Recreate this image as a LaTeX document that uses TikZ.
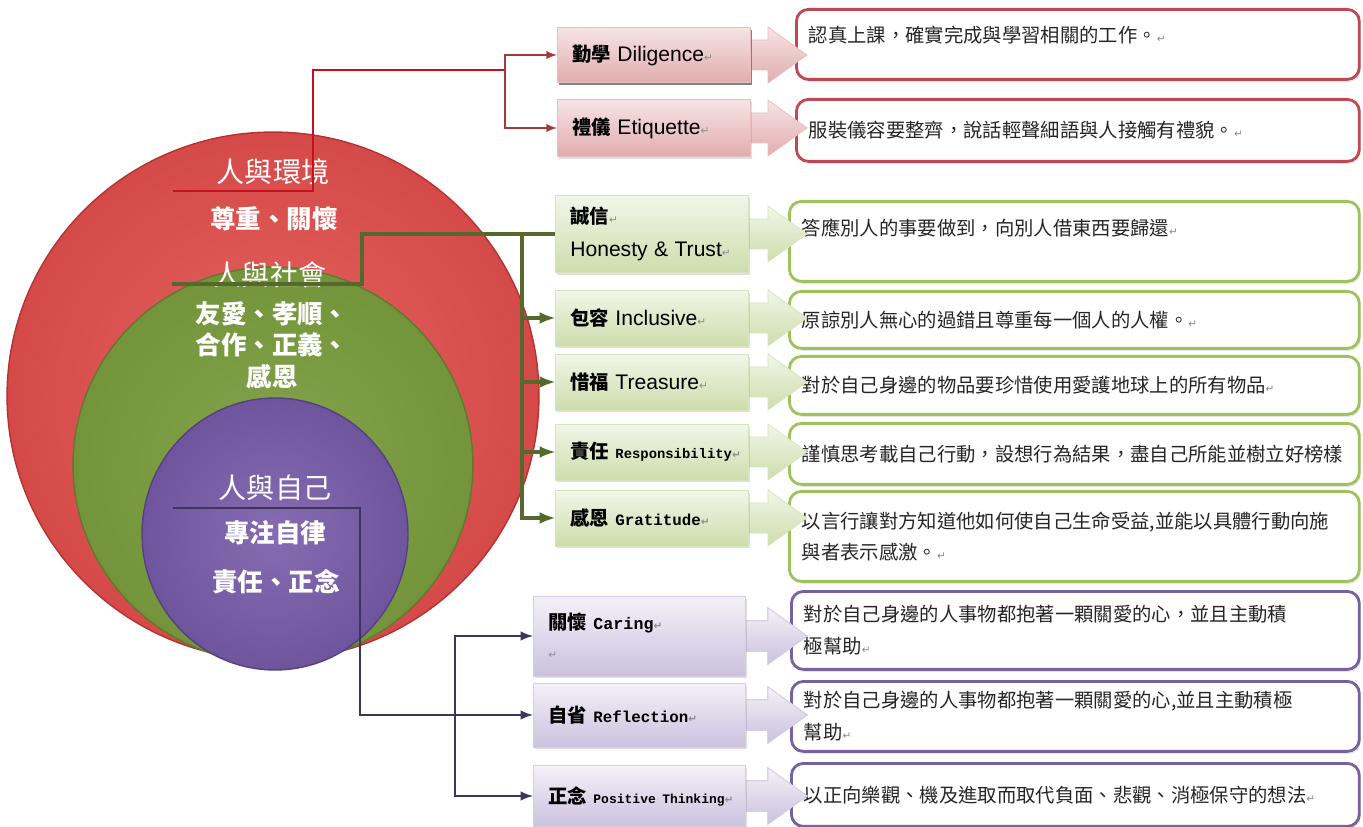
\documentclass[tikz,border=0pt]{standalone}
\usepackage{fontspec}
\setmainfont{Noto Sans CJK TC}
\newfontfamily\arialfont{Liberation Sans}
\newfontfamily\codefont{Liberation Mono}
\newfontfamily\markfont{DejaVu Sans}
\usetikzlibrary{positioning}
\usetikzlibrary{calc}
\usetikzlibrary{arrows}
\usetikzlibrary{shadows}
\pgfdeclarelayer{nodelayer}
\pgfdeclarelayer{edgelayer}
\pgfsetlayers{edgelayer,nodelayer,main}

\definecolor{envred}{RGB}{224,78,76}
\definecolor{envrededge}{RGB}{180,50,50}
\definecolor{socgreen}{RGB}{122,156,62}
\definecolor{socgreenedge}{RGB}{95,122,45}
\definecolor{selfpurple}{RGB}{120,92,170}
\definecolor{selfpurpleedge}{RGB}{85,65,130}
\definecolor{redwirecol}{RGB}{200,15,30}
\definecolor{redbranchcol}{RGB}{160,60,60}
\definecolor{greenwirecol}{RGB}{85,105,45}
\definecolor{purplewirecol}{RGB}{62,52,92}
\definecolor{redtagtop}{RGB}{246,228,228}
\definecolor{redtagbot}{RGB}{226,172,174}
\definecolor{greentagtop}{RGB}{242,246,232}
\definecolor{greentagbot}{RGB}{205,221,172}
\definecolor{purpletagtop}{RGB}{244,241,248}
\definecolor{purpletagbot}{RGB}{203,193,222}
\definecolor{redframe}{RGB}{192,72,82}
\definecolor{greenframe}{RGB}{158,194,92}
\definecolor{purpleframe}{RGB}{118,98,158}

\newcommand{\enterm}{{\markfont\fontsize{6}{6}\selectfont\color{black!45}↵}}
\newcommand{\tagzh}[1]{{\bfseries #1}}
\newcommand{\sanslabel}[1]{\mbox{\arialfont\fontsize{12}{14}\selectfont #1}}
\newcommand{\monolabel}[2][8.2]{\mbox{\codefont\bfseries\fontsize{#1}{11}\selectfont #2}}
\newcommand{\chev}[2]{\path[#2] (738,#1-15) -- (768,#1-15) -- (768,#1-28) -- (807,#1) -- (768,#1+28) -- (768,#1+15) -- (738,#1+15) -- cycle;}

\tikzset{ringred/.style={inner color=envred!88!white, outer color=envred!95!black, draw=envrededge, line width=0.8pt}}
\tikzset{ringgreen/.style={inner color=socgreen!92!white, outer color=socgreen!95!black, draw=socgreenedge, line width=0.8pt}}
\tikzset{ringpurple/.style={inner color=selfpurple!90!white, outer color=selfpurple!92!black, draw=selfpurpleedge, line width=0.8pt}}
\tikzset{circhead/.style={text=white, inner sep=0pt, font=\fontsize{16}{18}\selectfont}}
\tikzset{circtext/.style={text=white, inner sep=0pt, align=center, font=\fontsize{14.5}{18}\selectfont\bfseries}}
\tikzset{tagbox/.style={anchor=west, rectangle, inner xsep=0.3cm, align=left,
  font=\fontsize{11}{19}\selectfont,
  drop shadow={opacity=0.25, shadow xshift=0.03cm, shadow yshift=-0.05cm}}}
\tikzset{redtag/.style={tagbox, text width=3.26cm, minimum height=1.1cm, draw=redtagbot!80!white, top color=redtagtop, bottom color=redtagbot}}
\tikzset{greentag/.style={tagbox, text width=3.26cm, minimum height=1.12cm, draw=greentagbot!80!white, top color=greentagtop, bottom color=greentagbot}}
\tikzset{purpletag/.style={tagbox, text width=3.64cm, minimum height=1.24cm, draw=purpletagbot!80!white, top color=purpletagtop, bottom color=purpletagbot}}
\tikzset{descbox/.style={anchor=north west, rectangle, rounded corners=0.24cm, line width=1.6pt, fill=white,
  inner xsep=0.25cm, align=left, text=black!85, font=\fontsize{11}{18}\selectfont,
  drop shadow={opacity=0.2, shadow xshift=0.03cm, shadow yshift=-0.05cm}}}
\tikzset{reddesc/.style={descbox, draw=redframe, text width=10.76cm}}
\tikzset{greendesc/.style={descbox, draw=greenframe, text width=10.9cm}}
\tikzset{purpledesc/.style={descbox, draw=purpleframe, text width=10.86cm}}
\tikzset{redwire/.style={draw=redwirecol, line width=1.1pt}}
\tikzset{redbranch/.style={draw=redbranchcol, line width=1.1pt}}
\tikzset{greenwire/.style={draw=greenwirecol, line width=2pt}}
\tikzset{purplewire/.style={draw=purplewirecol, line width=1.4pt}}

\begin{document}
\begin{tikzpicture}[x=0.02cm, y=-0.02cm]
	\useasboundingbox (0,0) rectangle (1363,827);
	\begin{pgfonlayer}{nodelayer}
		\node [style=reddesc, minimum height=1.4cm, text depth=0.4cm] (20) at (795,8) {認真上課，確實完成與學習相關的工作。\enterm};
		\node [style=reddesc, minimum height=1.24cm] (21) at (795,98) {服裝儀容要整齊，說話輕聲細語與人接觸有禮貌。\enterm};
		\node [style=greendesc, minimum height=1.6cm, text depth=0.58cm] (22) at (788,200) {答應別人的事要做到，向別人借東西要歸還\enterm};
		\node [style=greendesc, minimum height=1.14cm] (23) at (788,290) {原諒別人無心的過錯且尊重每一個人的人權。\enterm};
		\node [style=greendesc, minimum height=1.16cm] (24) at (788,355) {對於自己身邊的物品要珍惜使用愛護地球上的所有物品\enterm};
		\node [style=greendesc, minimum height=1.22cm] (25) at (788,422) {謹慎思考載自己行動，設想行為結果，盡自己所能並樹立好榜樣};
		\node [style=greendesc, minimum height=1.8cm] (26) at (788,490) {以言行讓對方知道他如何使自己生命受益,並能以具體行動向施\\與者表示感激。\enterm};
		\node [style=purpledesc, minimum height=1.56cm] (27) at (790,590) {對於自己身邊的人事物都抱著一顆關愛的心，並且主動積\\極幫助\enterm};
		\node [style=purpledesc, minimum height=1.4cm] (28) at (790,680) {對於自己身邊的人事物都抱著一顆關愛的心,並且主動積極\\幫助\enterm};
		\node [style=purpledesc, minimum height=1.26cm] (29) at (790,762) {以正向樂觀、機及進取而取代負面、悲觀、消極保守的想法\enterm};
		% chevrons between tags and descriptions
		\chev{55}{top color=redtagtop, bottom color=redtagbot, draw=redtagbot!80!white}
		\chev{128}{top color=redtagtop, bottom color=redtagbot, draw=redtagbot!80!white}
		\foreach \y in {234,318,382,452,518}
			\chev{\y}{top color=greentagtop, bottom color=greentagbot, draw=greentagbot!80!white}
		\foreach \y in {636,715,796}
			\chev{\y}{top color=purpletagtop, bottom color=purpletagbot, draw=purpletagbot!80!white}
		\node [style=redtag] (10) at (557,55) {\tagzh{勤學}~\sanslabel{Diligence\enterm}};
		\node [style=redtag, minimum height=1.14cm] (11) at (557,128) {\tagzh{禮儀}~\sanslabel{Etiquette\enterm}};
		\node [style=greentag, minimum height=1.54cm] (12) at (555,234) {\tagzh{誠信}\enterm\\\sanslabel{Honesty \& Trust\enterm}};
		\node [style=greentag] (13) at (555,318) {\tagzh{包容}~\sanslabel{Inclusive\enterm}};
		\node [style=greentag] (14) at (555,382) {\tagzh{惜福}~\sanslabel{Treasure\enterm}};
		\node [style=greentag] (15) at (555,452) {\mbox{\tagzh{責任}~\monolabel[7.9]{Responsibility\enterm}}};
		\node [style=greentag] (16) at (555,518) {\tagzh{感恩}~\monolabel[9]{Gratitude\enterm}};
		\node [style=purpletag, minimum height=1.6cm, font=\fontsize{11}{16.5}\selectfont] (17) at (533,636) {\tagzh{關懷}~\monolabel[9.5]{Caring\enterm}\\\enterm};
		\node [style=purpletag, minimum height=1.28cm] (18) at (533,715) {\tagzh{自省}~\monolabel[9]{Reflection\enterm}};
		\node [style=purpletag, minimum height=1.22cm] (19) at (533,796) {\mbox{\tagzh{正念}~\monolabel[7.4]{Positive Thinking\enterm}}};
	\end{pgfonlayer}
	\begin{pgfonlayer}{edgelayer}
		\shadedraw [style=ringred] (273,396) ellipse [x radius=5.32cm, y radius=5.28cm];
		\shadedraw [style=ringgreen] (273,465) ellipse [x radius=4cm, y radius=3.96cm];
		\shadedraw [style=ringpurple] (275,534) ellipse [x radius=2.66cm, y radius=2.72cm];
		\node [style=circhead] (0) at (273,172) {人與環境};
		\node [style=circtext] (1) at (274,219) {尊重、關懷};
		\node [style=circhead] (2) at (270,275) {人與社會};
		\node [style=circtext] (3) at (272,345) {友愛、孝順、\\合作、正義、\\感恩};
		\node [style=circhead] (4) at (275,488) {人與自己};
		\node [style=circtext] (5) at (275,533) {專注自律};
		\node [style=circtext] (6) at (276,582) {責任、正念};
		\coordinate (30) at (173,191);
		\coordinate (31) at (313,70);
		\coordinate (32) at (505,70);
		\coordinate (33) at (172,284);
		\coordinate (34) at (362,234);
		\coordinate (35) at (522,234);
		\coordinate (36) at (173,508);
		\coordinate (37) at (360,715);
		\coordinate (38) at (455,715);
		\draw [style=redwire] (30) -| (31) -- (32);
		\draw [style=redbranch, -latex] (32) |- (10.west);
		\draw [style=redbranch, -latex] (32) |- (11.west);
		\draw [style=greenwire] (33) -| (34) -- (12.west);
		\foreach \n in {13,14,15,16}
			\draw [style=greenwire, -latex] (35) |- (\n.west);
		\draw [style=purplewire] (36) -| (37) -- (38);
		\foreach \n in {17,18,19}
			\draw [style=purplewire, -latex] (38) |- (\n.west);
	\end{pgfonlayer}
\end{tikzpicture}
\end{document}
